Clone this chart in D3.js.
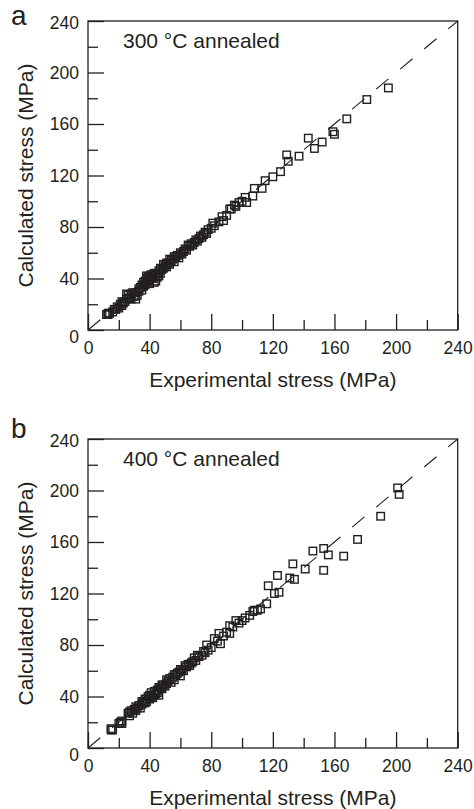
<!DOCTYPE html>
<html>
<head>
<meta charset="utf-8">
<script src="https://cdn.jsdelivr.net/npm/d3@7"></script>
<style>
  html, body { margin: 0; padding: 0; background: #fff; }
  svg { display: block; font-family: "Liberation Sans", Arial, sans-serif; }
</style>
</head>
<body>
<svg id="chart" width="474" height="809"></svg>
<script>
// Experimental vs. calculated flow stress (MPa), two annealing conditions
const majorTicks = [0, 40, 80, 120, 160, 200, 240];
const minorTicks = [20, 60, 100, 140, 180, 220];
const xTitle = "Experimental stress (MPa)";
const yTitle = "Calculated stress (MPa)";

const panelLetters = ["a", "b"];
const panelNotes = ["300 °C annealed", "400 °C annealed"];

// [experimental, calculated]
const annealed300 = [
  [12,12],[13,12],[13,13],[14,13],[16,14],[17,16],[18,16],[19,18],[20,17],[21,20],
  [22,19],[22,22],[23,21],[24,22],[25,24],[25,28],[26,27],[27,25],[28,28],[28,24],
  [29,29],[30,26],[31,24],[31,29],[32,27],[33,30],[33,32],[34,33],[35,35],[35,31],
  [36,34],[36,37],[37,38],[37,35],[38,40],[38,36],[38,42],[39,41],[39,38],[40,39],
  [40,42],[40,36],[41,43],[41,40],[42,40],[42,42],[43,37],[43,44],[44,44],[44,38],
  [45,41],[45,44],[46,46],[46,42],[47,44],[47,48],[48,47],[49,48],[49,51],[50,50],
  [51,49],[51,52],[52,52],[53,51],[53,55],[54,54],[55,55],[56,53],[56,57],[57,57],
  [58,58],[59,56],[60,60],[61,59],[62,61],[63,63],[64,62],[65,66],[66,65],[67,67],
  [68,66],[69,68],[70,70],[71,69],[72,71],[73,73],[74,72],[75,74],[76,76],[77,75],
  [78,78],[80,79],[81,83],[82,81],[85,84],[87,88],[88,85],[90,89],[92,94],[93,94],
  [95,97],[96,96],[98,99],[100,100],[102,103],[103,99],[107,104],[108,110],[113,110],[115,116],
  [120,119],[125,123],[129,136],[130,131],[137,135],[143,149],[147,141],[152,146],[159,154],[160,152],
  [168,164],[181,179],[195,188]
];

const annealed400 = [
  [15,14],[15,15],[16,14],[20,19],[21,20],[22,21],[22,19],[26,27],[27,25],[27,28],
  [28,29],[29,27],[30,30],[31,32],[31,29],[32,31],[33,33],[34,31],[35,34],[35,36],
  [36,36],[37,35],[37,38],[38,38],[38,36],[39,40],[40,41],[40,38],[41,43],[41,40],
  [42,39],[43,44],[43,41],[44,42],[45,45],[45,43],[46,41],[46,47],[47,47],[48,46],
  [48,49],[49,49],[50,48],[51,50],[51,53],[52,52],[53,54],[54,51],[55,55],[56,53],
  [56,57],[57,57],[58,58],[59,59],[60,56],[60,61],[61,61],[62,60],[63,64],[64,63],
  [65,65],[66,64],[67,66],[68,67],[69,70],[70,68],[71,72],[72,71],[74,72],[75,75],
  [76,74],[77,80],[78,76],[80,78],[82,85],[84,83],[85,89],[86,81],[88,87],[90,90],
  [92,95],[92,89],[94,94],[96,99],[98,97],[100,99],[102,101],[105,103],[107,106],[108,107],
  [110,107],[112,108],[116,112],[117,126],[121,120],[123,134],[124,121],[131,132],[133,143],[134,131],
  [141,139],[146,153],[153,155],[153,138],[156,150],[166,149],[175,162],[190,180],[201,202],[202,197]
];

const series = [annealed300, annealed400];

const ink = "#231f20";
const svg = d3.select("#chart");

const left = 88, right = 457.7;
const panelTops = [21, 439];
const plotH = 309;

series.forEach((data, i) => {
  const top = panelTops[i];
  const bottom = top + plotH;

  const x = d3.scaleLinear().domain([0, 240]).range([left, right]);
  const y = d3.scaleLinear().domain([0, 240]).range([bottom, top]);

  const g = svg.append("g");

  // plot frame
  g.append("rect")
    .attr("x", left).attr("y", top)
    .attr("width", right - left).attr("height", plotH)
    .attr("fill", "none").attr("stroke", ink).attr("stroke-width", 1.3);

  // minor ticks (inward)
  g.append("g").attr("transform", `translate(0,${bottom})`)
    .call(d3.axisBottom(x).tickValues(minorTicks).tickSize(-10).tickFormat(""))
    .call(a => a.select(".domain").remove());
  g.append("g").attr("transform", `translate(${left},0)`)
    .call(d3.axisLeft(y).tickValues(minorTicks).tickSize(-10).tickFormat(""))
    .call(a => a.select(".domain").remove());

  // major ticks with labels
  const xa = g.append("g").attr("transform", `translate(0,${bottom})`)
    .call(d3.axisBottom(x).tickValues(majorTicks).tickSize(-16).tickPadding(12));
  const ya = g.append("g").attr("transform", `translate(${left},0)`)
    .call(d3.axisLeft(y).tickValues(majorTicks).tickSize(-16).tickPadding(9));

  [xa, ya].forEach(a => {
    a.select(".domain").remove();
    a.selectAll("text").attr("font-size", 17.5).attr("fill", ink)
      .attr("font-family", "'Liberation Sans', Arial, sans-serif");
  });
  ya.selectAll(".tick").filter(d => d === 0).select("text").attr("dy", "0.7em");
  ya.selectAll(".tick").filter(d => d === 240).select("text").attr("dy", "0.45em");

  g.selectAll(".tick line").attr("stroke", ink).attr("stroke-width", 1.3);

  // 1:1 reference line
  g.append("line")
    .attr("x1", x(0)).attr("y1", y(0))
    .attr("x2", x(240)).attr("y2", y(240))
    .attr("stroke", ink).attr("stroke-width", 1.1)
    .attr("stroke-dasharray", "16,15.3");

  // data markers
  const s = 7.5;
  g.append("g").selectAll("rect")
    .data(data).join("rect")
    .attr("x", d => x(d[0]) - s / 2)
    .attr("y", d => y(d[1]) - s / 2)
    .attr("width", s).attr("height", s)
    .attr("fill", "none").attr("stroke", ink).attr("stroke-width", 1.4);

  // axis titles
  g.append("text")
    .attr("x", (left + right) / 2).attr("y", bottom + 57)
    .attr("text-anchor", "middle").attr("font-size", 21).attr("fill", ink)
    .text(xTitle);
  g.append("text")
    .attr("transform", `translate(33,${(top + bottom) / 2}) rotate(-90)`)
    .attr("text-anchor", "middle").attr("font-size", 21).attr("fill", ink)
    .text(yTitle);

  // panel letter and condition note
  g.append("text")
    .attr("x", 11).attr("y", i === 0 ? top + 4 : top - 1)
    .attr("font-size", 28).attr("fill", ink)
    .text(panelLetters[i]);
  g.append("text")
    .attr("x", 123).attr("y", top + 27)
    .attr("font-size", 21).attr("fill", ink)
    .text(panelNotes[i]);
});
</script>
</body>
</html>
